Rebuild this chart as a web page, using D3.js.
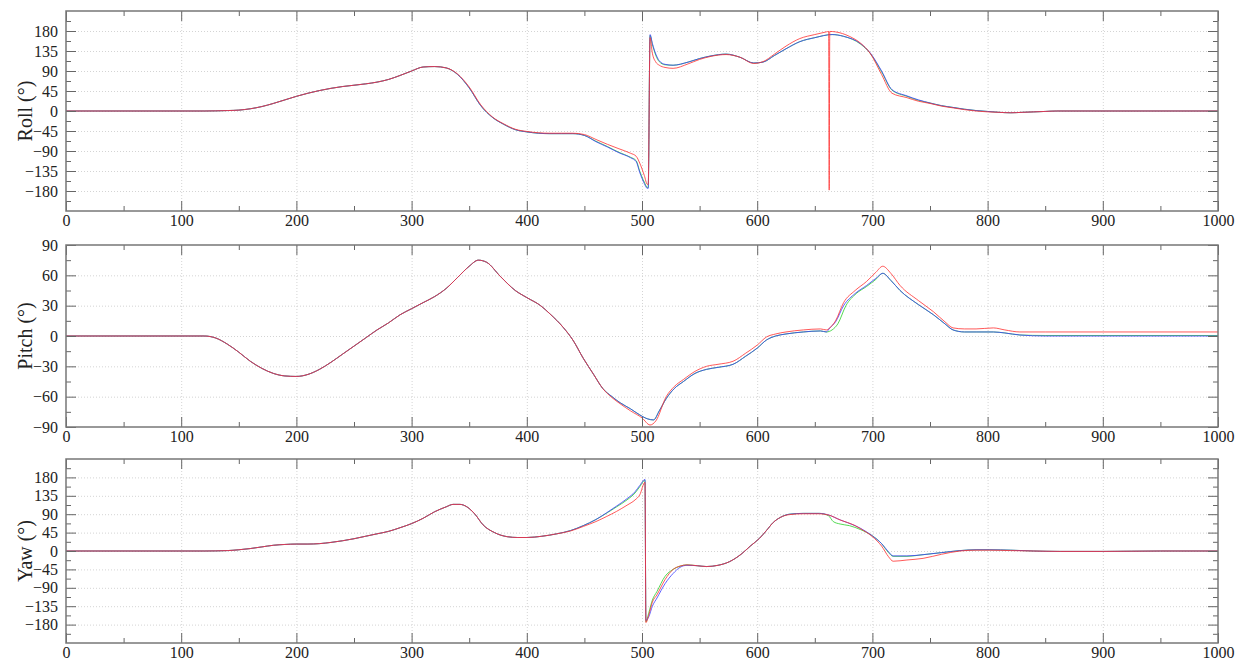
<!DOCTYPE html>
<html>
<head>
<meta charset="utf-8">
<script src="https://cdn.jsdelivr.net/npm/d3@7"></script>
<style>
  body { margin: 0; background: #fff; }
  svg text { font-family: "Liberation Serif", "DejaVu Serif", serif; fill: #222; }
</style>
</head>
<body>
<svg id="chart" width="1246" height="668"></svg>
<script>
// x ticks (sample index)
var xTicks = [0, 100, 200, 300, 400, 500, 600, 700, 800, 900, 1000];
var angleTicks = [-180, -135, -90, -45, 0, 45, 90, 135, 180];
var pitchTicks = [-90, -60, -30, 0, 30, 60, 90];
var seriesColors = ["#2bd12b", "#3b3bff", "#ff3030"];

// roll (deg), [t, value]
var rollGreen = [[0,0],[120,0],[140,1],[150,2],[160,5],[170,10],[180,17],[190,25],[200,33],[210,40],[220,46],[230,51],[240,55],[250,58],[260,61],[270,65],[280,71],[290,80],[300,90],[310,99],[320,100],[330,97],[340,82],[350,52],[360,12],[370,-14],[380,-30],[390,-42],[400,-47],[410,-50],[420,-51],[430,-51],[440,-51],[450,-55],[460,-68],[470,-80],[480,-93],[490,-104],[495,-112],[498,-135],[502,-160],[504.6,-172],[505.4,-172],[507,170],[509,150],[512,125],[515,111],[520,104],[527,103],[540,110],[550,118],[560,124],[573,128],[585,121],[597,108],[605,110],[615,125],[625,140],[637,156],[650,165],[665,172],[675,168],[690,150],[698,130],[708,88],[717,47],[730,33],[740,24],[750,18],[760,12],[770,8],[780,4],[790,1],[800,-1],[810,-3],[820,-4],[830,-3],[840,-2],[850,-1],[860,0],[1000,0]];
var rollBlue = [[0,0],[120,0],[140,1],[150,2],[160,5],[170,10],[180,17],[190,25],[200,33],[210,40],[220,46],[230,51],[240,55],[250,58],[260,61],[270,65],[280,71],[290,80],[300,90],[310,99],[320,100],[330,97],[340,82],[350,52],[360,12],[370,-14],[380,-30],[390,-42],[400,-47],[410,-50],[420,-51],[430,-51],[440,-51],[450,-55],[460,-69],[470,-81],[480,-94],[490,-105],[495,-114],[498,-138],[502,-163],[504.6,-174],[505.4,-174],[507,172],[509,152],[512,128],[515,113],[520,105],[527,103],[540,110],[550,118],[560,124],[573,128],[585,121],[597,108],[605,110],[615,125],[625,140],[637,156],[650,165],[665,172],[675,168],[690,151],[698,131],[708,90],[717,48],[730,34],[740,25],[750,18],[760,12],[770,8],[780,4],[790,1],[800,-1],[810,-3],[820,-4],[830,-3],[840,-2],[850,-1],[860,0],[1000,0]];
var rollRed = [[0,0],[120,0],[140,1],[150,2],[160,5],[170,10],[180,17],[190,25],[200,33],[210,40],[220,46],[230,51],[240,55],[250,58],[260,61],[270,65],[280,71],[290,80],[300,90],[310,99],[320,100],[330,97],[340,83],[350,54],[360,14],[370,-13],[380,-29],[390,-41],[400,-46],[410,-49],[420,-50],[430,-50],[440,-50],[450,-53],[460,-64],[470,-75],[480,-85],[490,-95],[495,-102],[498,-117],[502,-145],[504.6,-165],[505.4,-165],[507,165],[509,130],[512,110],[515,103],[520,98],[527,96],[540,106],[550,116],[560,123],[573,127],[585,121],[597,107],[605,111],[615,128],[625,146],[637,163],[650,172],[660,178],[662,179],[662.5,-178],[663,179],[668,178],[680,168],[690,152],[698,130],[708,82],[717,40],[730,30],[740,22],[750,17],[760,11],[770,7],[780,3],[790,0],[800,-2],[810,-3],[820,-4],[830,-3],[840,-2],[850,-1],[860,0],[1000,0]];

// pitch (deg)
var pitchGreen = [[0,0],[120,0],[130,-2],[140,-8],[150,-16],[160,-25],[170,-32],[180,-37],[190,-39.5],[200,-40],[210,-38],[220,-33],[230,-26],[240,-18],[250,-10],[260,-2],[270,6],[280,13],[290,21],[300,27],[310,33],[320,39],[330,47],[340,58],[350,69],[358,75],[365,73],[377,59],[390,45],[400,38],[412,30],[420,22],[432,8],[440,-4],[449,-22],[458,-38],[466,-52],[474,-60],[481,-66],[490,-72],[498,-78],[505,-82],[510,-83],[515,-74],[521,-62],[528,-52],[536,-45],[546,-37],[556,-33],[566,-31],[579,-28],[590,-20],[600,-12],[608,-4],[616,0],[625,2],[640,4],[655,5],[660,4],[665,6],[670,12],[677,30],[686,42],[695,49],[703,56],[709,62],[716,55],[724,45],[740,31],[753,21],[763,12],[770,6],[780,4],[790,4],[805,4],[815,3],[828,1],[850,0.5],[1000,0.5]];
var pitchBlue = [[0,0],[120,0],[130,-2],[140,-8],[150,-16],[160,-25],[170,-32],[180,-37],[190,-39.5],[200,-40],[210,-38],[220,-33],[230,-26],[240,-18],[250,-10],[260,-2],[270,6],[280,13],[290,21],[300,27],[310,33],[320,39],[330,47],[340,58],[350,69],[358,75],[365,73],[377,59],[390,45],[400,38],[412,30],[420,22],[432,8],[440,-4],[449,-22],[458,-38],[466,-52],[474,-60],[481,-66],[490,-72],[498,-78],[505,-82],[510,-83],[515,-74],[521,-62],[528,-52],[536,-45],[546,-37],[556,-33],[566,-31],[579,-28],[590,-20],[600,-12],[608,-4],[616,0],[625,2],[640,4],[655,5],[660,4],[663,8],[668,14],[675,30],[685,42],[695,50],[703,57],[709,62],[716,55],[724,45],[740,31],[753,21],[763,12],[770,6],[780,4],[790,4],[805,4],[815,3],[828,1],[850,0],[1000,0]];
var pitchRed = [[0,0],[120,0],[130,-2],[140,-8],[150,-16],[160,-25],[170,-32],[180,-37],[190,-39.5],[200,-40],[210,-38],[220,-33],[230,-26],[240,-18],[250,-10],[260,-2],[270,6],[280,13],[290,21],[300,27],[310,33],[320,39],[330,47],[340,58],[350,69],[358,75],[365,73],[377,59],[390,45],[400,38],[412,30],[420,22],[432,8],[440,-4],[449,-22],[458,-38],[466,-52],[474,-61],[481,-67],[490,-74],[500,-81],[507,-88],[512,-84],[521,-60],[528,-50],[536,-43],[546,-35],[556,-30],[566,-28],[579,-25],[590,-17],[600,-9],[608,-1],[616,2],[625,4],[640,6],[655,7],[660,6],[663,8],[668,15],[675,33],[685,45],[695,54],[703,63],[709,69],[716,62],[724,50],[740,35],[753,24],[763,14],[770,8],[780,7],[790,7],[805,8],[815,6],[828,4],[850,4],[1000,4]];

// yaw (deg)
var yawGreen = [[0,0],[120,0],[140,1],[150,3],[160,6],[170,10],[180,14],[190,16],[200,17],[210,17],[220,18],[230,21],[240,25],[250,30],[260,36],[270,42],[280,48],[290,57],[300,67],[310,80],[320,96],[330,108],[336,114],[342,114],[348,108],[355,90],[362,64],[372,45],[383,35],[392,33],[400,33],[413,36],[426,42],[438,50],[449,62],[460,77],[469,92],[478,108],[487,125],[494,142],[498,157],[502.6,173],[503.4,-173],[506,-150],[509,-120],[513,-99],[520,-62],[527,-45],[533,-37],[539,-34],[548,-36],[556,-38],[566,-35],[576,-26],[586,-8],[594,12],[602,31],[608,50],[614,70],[620,82],[628,90],[640,92],[654,92],[662,86],[666,72],[672,66],[680,62],[690,52],[700,37],[708,18],[714,-4],[718,-13],[730,-13],[744,-9],[760,-4],[776,1],[790,3],[802,3],[820,2],[840,0],[863,-1],[900,-1],[950,0],[1000,0]];
var yawBlue = [[0,0],[120,0],[140,1],[150,3],[160,6],[170,10],[180,14],[190,16],[200,17],[210,17],[220,18],[230,21],[240,25],[250,30],[260,36],[270,42],[280,48],[290,57],[300,67],[310,80],[320,96],[330,108],[336,114],[342,114],[348,108],[355,90],[362,64],[372,45],[383,35],[392,33],[400,33],[413,36],[426,42],[438,50],[449,62],[460,77],[469,93],[478,110],[487,128],[494,145],[498,160],[502.6,175],[503.4,-170],[506,-160],[509,-135],[513,-115],[520,-80],[527,-55],[533,-40],[539,-35],[548,-36],[556,-38],[566,-35],[576,-26],[586,-8],[594,12],[602,31],[608,50],[614,70],[620,82],[628,90],[640,92],[654,92],[662,88],[672,76],[685,62],[690,55],[700,37],[708,18],[714,-2],[718,-12],[730,-12],[744,-9],[760,-4],[776,1],[790,3],[802,3],[820,2],[840,0],[863,-1],[900,-1],[950,0],[1000,0]];
var yawRed = [[0,0],[120,0],[140,1],[150,3],[160,6],[170,10],[180,14],[190,16],[200,17],[210,17],[220,18],[230,21],[240,25],[250,30],[260,36],[270,42],[280,48],[290,57],[300,67],[310,80],[320,96],[330,108],[336,114],[342,114],[348,108],[355,90],[362,64],[372,45],[383,35],[392,33],[400,33],[413,36],[426,42],[438,49],[449,60],[460,72],[469,84],[478,97],[487,112],[494,125],[498,137],[502.6,168],[503.4,-175],[506,-155],[509,-125],[513,-107],[520,-70],[527,-45],[533,-37],[539,-34],[548,-36],[556,-38],[566,-35],[576,-26],[586,-8],[594,12],[602,31],[608,50],[614,70],[620,82],[628,89],[640,91],[654,91],[662,88],[672,76],[685,62],[690,54],[700,35],[708,12],[714,-14],[718,-25],[730,-22],[744,-18],[760,-8],[776,0],[790,2],[802,2],[820,1],[840,0],[863,-1],[900,-1],[950,0],[1000,0]];

var panels = [
  { label: "Roll (°)", top: 11, bottom: 211, domain: [-225, 225], ticks: angleTicks, minor: 22.5,
    series: [rollGreen, rollBlue, rollRed] },
  { label: "Pitch (°)", top: 245, bottom: 427, domain: [-90, 90], ticks: pitchTicks, minor: 15,
    series: [pitchGreen, pitchBlue, pitchRed] },
  { label: "Yaw (°)", top: 459, bottom: 643, domain: [-225, 225], ticks: angleTicks, minor: 22.5,
    series: [yawGreen, yawBlue, yawRed] }
];

var left = 66, right = 1218;
var svg = d3.select("#chart");

var x = d3.scaleLinear().domain([0, 1000]).range([left, right]);
var xMinor = d3.range(50, 1000, 100);
var fmt = d3.format("d");

panels.forEach(function(p) {
  var y = d3.scaleLinear().domain(p.domain).range([p.bottom, p.top]);
  var h = p.bottom - p.top;
  var yMinor = d3.range(p.domain[0] + p.minor, p.domain[1], p.minor).filter(function(v) {
    return p.ticks.indexOf(v) < 0;
  });
  var g = svg.append("g");

  // dotted grid
  var gridStyle = function(s) {
    s.select(".domain").remove();
    s.selectAll("line").attr("stroke", "#d4d4d4").attr("stroke-dasharray", "1,2");
  };
  g.append("g")
    .attr("transform", "translate(" + left + ",0)")
    .call(d3.axisLeft(y).tickValues(p.ticks.filter(function(v) { return v > p.domain[0] && v < p.domain[1]; }))
      .tickSize(-(right - left)).tickFormat(""))
    .call(gridStyle);
  g.append("g")
    .attr("transform", "translate(0," + p.bottom + ")")
    .call(d3.axisBottom(x).tickValues(xTicks.slice(1, -1)).tickSize(-h).tickFormat(""))
    .call(gridStyle);

  // lines
  var line = d3.line()
    .x(function(d) { return x(d[0]); })
    .y(function(d) { return y(d[1]); })
    .curve(d3.curveMonotoneX);
  p.series.forEach(function(s, i) {
    g.append("path")
      .datum(s)
      .attr("fill", "none")
      .attr("stroke", seriesColors[i])
      .attr("stroke-opacity", 0.8)
      .attr("stroke-width", 1)
      .attr("d", line);
  });

  // axes, ticks pointing inward
  var axisStyle = function(s) {
    s.attr("font-family", null);
    s.select(".domain").remove();
    s.selectAll("line").attr("stroke", "#666");
    s.selectAll("text").style("font-size", "16px").attr("fill", "#222");
  };
  g.append("g")
    .attr("transform", "translate(" + left + ",0)")
    .call(d3.axisLeft(y).tickValues(p.ticks).tickSize(-10).tickPadding(8).tickFormat(fmt))
    .call(axisStyle);
  g.append("g")
    .attr("transform", "translate(" + left + ",0)")
    .call(d3.axisLeft(y).tickValues(yMinor).tickSize(-5).tickFormat(""))
    .call(axisStyle);
  g.append("g")
    .attr("transform", "translate(" + right + ",0)")
    .call(d3.axisRight(y).tickValues(p.ticks).tickSize(-10).tickFormat(""))
    .call(axisStyle);
  g.append("g")
    .attr("transform", "translate(" + right + ",0)")
    .call(d3.axisRight(y).tickValues(yMinor).tickSize(-5).tickFormat(""))
    .call(axisStyle);
  g.append("g")
    .attr("transform", "translate(0," + p.bottom + ")")
    .call(d3.axisBottom(x).tickValues(xTicks).tickSize(-10).tickPadding(4).tickFormat(fmt))
    .call(axisStyle);
  g.append("g")
    .attr("transform", "translate(0," + p.bottom + ")")
    .call(d3.axisBottom(x).tickValues(xMinor).tickSize(-5).tickFormat(""))
    .call(axisStyle);
  g.append("g")
    .attr("transform", "translate(0," + p.top + ")")
    .call(d3.axisTop(x).tickValues(xTicks).tickSize(-10).tickFormat(""))
    .call(axisStyle);
  g.append("g")
    .attr("transform", "translate(0," + p.top + ")")
    .call(d3.axisTop(x).tickValues(xMinor).tickSize(-5).tickFormat(""))
    .call(axisStyle);

  // frame
  g.append("rect")
    .attr("x", left).attr("y", p.top)
    .attr("width", right - left).attr("height", h)
    .attr("fill", "none").attr("stroke", "#777").attr("stroke-width", 1.5);

  // y title
  g.append("text")
    .attr("transform", "translate(27," + (p.top + h / 2) + ") rotate(-90)")
    .attr("text-anchor", "middle")
    .attr("dominant-baseline", "middle")
    .style("font-size", "20px")
    .text(p.label);
});
</script>
</body>
</html>
